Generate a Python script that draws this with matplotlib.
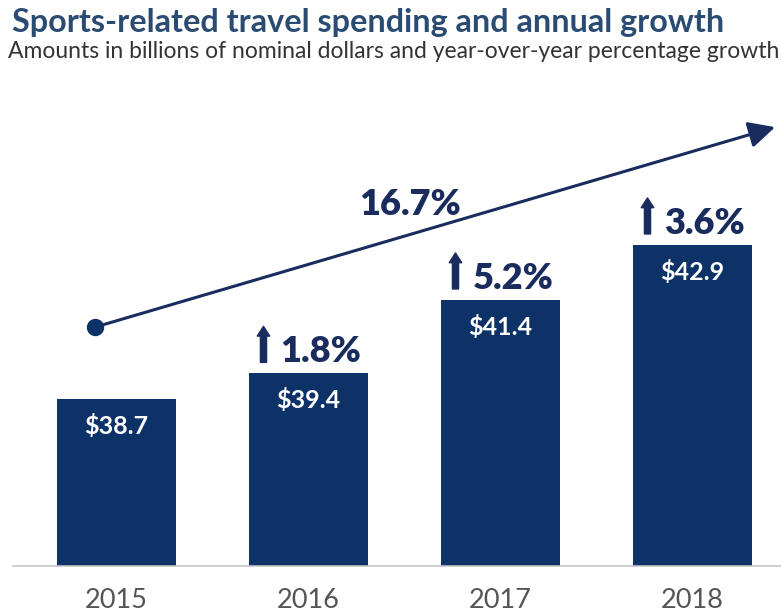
import matplotlib

matplotlib.use("Agg")
import matplotlib.pyplot as plt
from matplotlib.transforms import offset_copy

years = ["2015", "2016", "2017", "2018"]
spending = [38.7, 39.4, 41.4, 42.9]
growth = [None, 1.8, 5.2, 3.6]
total_growth = 16.7

NAVY = "#0c3268"
LABEL_NAVY = "#1a2b5e"

plt.rcParams["font.family"] = ["Lato", "DejaVu Sans"]

fig = plt.figure(figsize=(7.81, 6.13), dpi=100)
fig.patch.set_facecolor("white")
ax = fig.add_axes([13 / 781, 47 / 613, 768 / 781, 466 / 613])

x = list(range(len(years)))
ax.bar(x, spending, width=0.62, color=NAVY, zorder=2)
ax.set_xlim(-0.539, 3.461)
ax.set_ylim(34.15, 46.85)

for side in ("top", "left", "right"):
    ax.spines[side].set_visible(False)
ax.spines["bottom"].set_color("#c4c4c4")
ax.spines["bottom"].set_linewidth(1.2)
ax.set_yticks([])
ax.set_xticks(x, years)
ax.tick_params(axis="x", length=0, pad=16, labelsize=19.5, labelcolor="#555555")

# dollar amounts inside each bar
for xi, v in zip(x, spending):
    tr = offset_copy(ax.transData, fig=fig, x=0, y=-27, units="dots")
    ax.text(xi, v, f"${v:.1f}", transform=tr, ha="center", va="center",
            color="white", fontsize=18, fontweight="bold")

# year-over-year growth with an up arrow
for xi, v, g in zip(x, spending, growth):
    if g is None:
        continue
    tr = offset_copy(ax.transData, fig=fig, x=-28, y=11, units="dots")
    ax.text(xi, v, f"{g:.1f}%", transform=tr, ha="left", va="baseline",
            color=LABEL_NAVY, fontsize=26, fontweight="heavy")
    tail = offset_copy(ax.transData, fig=fig, x=-45, y=11, units="dots")
    head = offset_copy(ax.transData, fig=fig, x=-45, y=47, units="dots")
    ax.annotate("", xy=(xi, v), xycoords=head, xytext=(xi, v), textcoords=tail,
                arrowprops=dict(arrowstyle="simple,head_length=7,head_width=9,tail_width=4.4",
                                mutation_scale=1, color=LABEL_NAVY, shrinkA=0, shrinkB=0))

# overall trend arrow across the period
trend_start = (-0.112, 40.66)
trend_end = (3.43, 46.11)
ax.annotate("", xy=trend_end, xytext=trend_start,
            arrowprops=dict(arrowstyle="-|>,head_length=0.8,head_width=0.4",
                            mutation_scale=20, color=LABEL_NAVY, lw=2.2,
                            shrinkA=0, shrinkB=0))
ax.plot(*trend_start, "o", color=NAVY, markersize=11.5, zorder=3, clip_on=False)
ax.text(1.53, 43.99, f"{total_growth:.1f}%", ha="center", va="center",
        color=LABEL_NAVY, fontsize=26, fontweight="heavy")

fig.text(12 / 781, 1 - 32 / 613, "Sports-related travel spending and annual growth",
         ha="left", va="baseline", fontsize=23.3, fontweight="bold", color="#2a4b72")
fig.text(8 / 781, 1 - 58 / 613,
         "Amounts in billions of nominal dollars and year-over-year percentage growth",
         ha="left", va="baseline", fontsize=16.5, color="#333333")

fig.savefig("out.png", dpi=100)
